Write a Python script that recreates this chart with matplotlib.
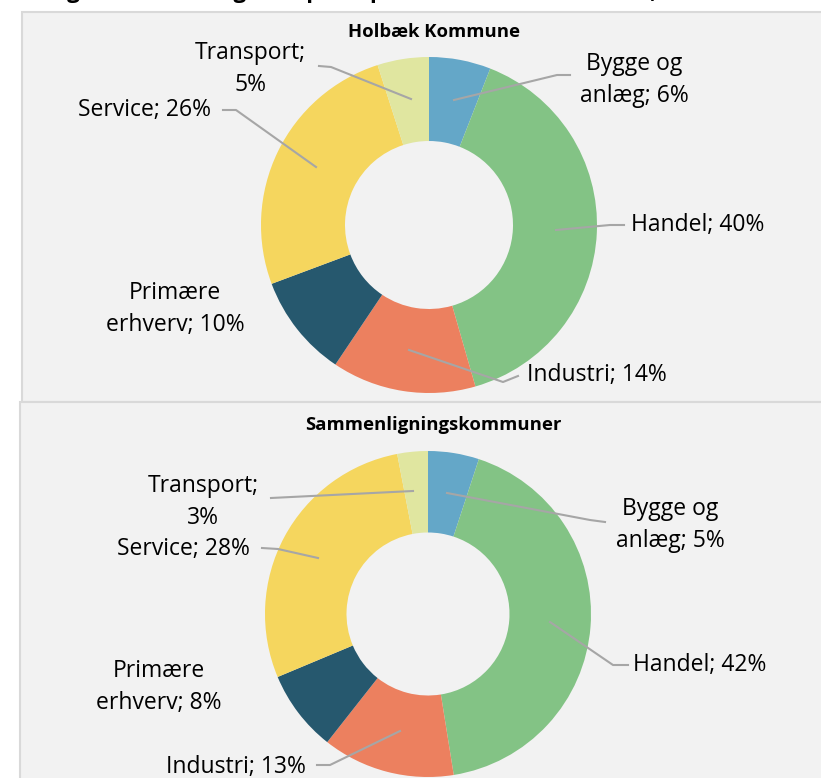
import matplotlib.pyplot as plt
from matplotlib.patches import Rectangle

plt.rcParams['font.family'] = ['Open Sans', 'DejaVu Sans']

categories = ['Bygge og anlæg', 'Handel', 'Industri', 'Primære erhverv', 'Service', 'Transport']
holbaek = [6, 40, 14, 10, 26, 5]
sammen = [5, 42, 13, 8, 28, 3]
colors = ['#64a7c8', '#83c385', '#ec805f', '#26586e', '#f5d65e', '#e0e6a0']

W, H = 821, 778
fig = plt.figure(figsize=(W / 100, H / 100), dpi=100)
ax = fig.add_axes([0, 0, 1, 1])


def Y(y):
    return H - y


# panels
ax.add_patch(Rectangle((22, Y(402)), 820, 390, facecolor='#f2f2f2', edgecolor='#d9d9d9', lw=1.5, zorder=0))
ax.add_patch(Rectangle((20, Y(790)), 820, 388, facecolor='#f2f2f2', edgecolor='#d9d9d9', lw=1.5, zorder=0))

# heading above the chart, cut off by the top edge
ax.text(48, Y(-8), 'Figur 2: Beskæftigede opdelt på brancher i kommunen, 2019',
        fontsize=16, fontweight='bold', ha='left', va='center', clip_on=False)

pies = [
    (holbaek, (429, 225), 168, 'Holbæk Kommune', 32),
    (sammen, (428, 614), 163, 'Sammenligningskommuner', 425),
]
for vals, (cx, cy), r, title, ty in pies:
    ax.pie(vals, colors=colors, startangle=90, counterclock=False,
           center=(cx, Y(cy)), radius=r,
           wedgeprops=dict(width=r * 0.5, edgecolor='none'))
    ax.text(cx + 5, Y(ty), title, fontsize=13.3, fontweight='bold', ha='center', va='center')

# labels: text, text position, leader line points
labels_top = [
    ('Transport;\n5%', (250, 69), [(319, 66), (331, 67), (411, 99)]),
    ('Bygge og\nanlæg; 6%', (634, 80), [(570, 75), (557, 75), (454, 100)]),
    ('Service; 26%', (145, 110), [(223, 110), (236, 110), (316, 167)]),
    ('Handel; 40%', (698, 225), [(624, 225), (610, 225), (556, 230)]),
    ('Primære\nerhverv; 10%', (175, 309), []),
    ('Industri; 14%', (597, 375), [(518, 376), (503, 382), (409, 350)]),
]
labels_bottom = [
    ('Transport;\n3%', (203, 502), [(271, 498), (413, 491)]),
    ('Bygge og\nanlæg; 5%', (670, 525), [(605, 522), (590, 520), (447, 493)]),
    ('Service; 28%', (183, 549), [(262, 548), (278, 549), (318, 558)]),
    ('Handel; 42%', (700, 665), [(628, 665), (613, 665), (550, 622)]),
    ('Primære\nerhverv; 8%', (159, 687), []),
    ('Industri; 13%', (236, 767), [(317, 765), (330, 765), (400, 731)]),
]
for txt, (x, y), pts in labels_top + labels_bottom:
    ax.text(x, Y(y), txt, fontsize=16.5, ha='center', va='center', linespacing=1.4)
    if pts:
        ax.plot([p[0] for p in pts], [Y(p[1]) for p in pts], color='#a6a6a6', lw=1.5, zorder=3)

ax.set_xlim(0, W)
ax.set_ylim(0, H)
ax.set_aspect('auto')
ax.axis('off')

fig.savefig('out.png', dpi=100, facecolor='white')
